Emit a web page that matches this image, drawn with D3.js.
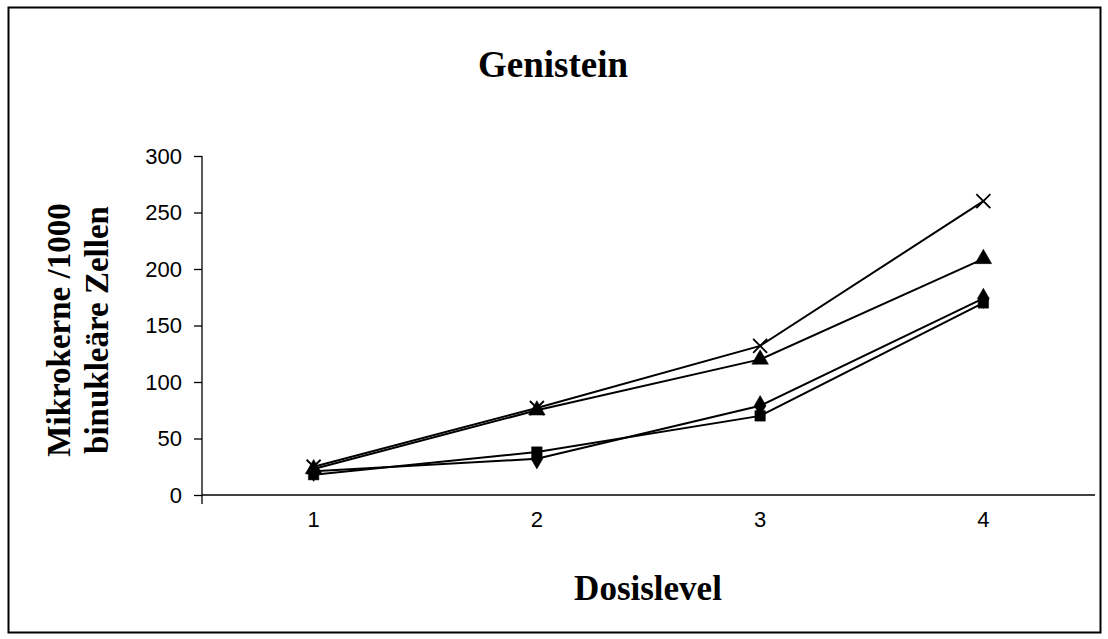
<!DOCTYPE html>
<html>
<head>
<meta charset="utf-8">
<script src="https://cdn.jsdelivr.net/npm/d3@7"></script>
<style>
  html, body { margin: 0; padding: 0; background: #fff; }
  svg { display: block; }
</style>
</head>
<body>
<svg id="chart" width="1108" height="639"></svg>
<script>
// Dose levels and the four measured series (micronuclei per 1000 binucleated cells)
const doseLevels = ["1", "2", "3", "4"];
const seriesDiamond  = [21, 32, 79, 174];
const seriesSquare   = [18, 38, 70, 170];
const seriesTriangle = [23, 75, 120, 209];
const seriesCross    = [25, 77, 132, 260];
const yTicks = [0, 50, 100, 150, 200, 250, 300];

const series = [
  { name: "diamond",  values: seriesDiamond },
  { name: "square",   values: seriesSquare },
  { name: "triangle", values: seriesTriangle },
  { name: "cross",    values: seriesCross }
];

const svg = d3.select("#chart");
const W = 1108, H = 639;

// outer frame
svg.append("rect")
  .attr("x", 8.5).attr("y", 7.5)
  .attr("width", W - 16).attr("height", H - 14)
  .attr("fill", "#fff").attr("stroke", "#000").attr("stroke-width", 2);

const plot = { left: 202, right: 1095, top: 156, bottom: 495 };

const x = d3.scaleBand().domain(doseLevels).range([plot.left, plot.right]);
const y = d3.scaleLinear().domain([0, 300]).range([plot.bottom, plot.top]);
const cx = d => x(d) + x.bandwidth() / 2;

// y axis
const yAxis = svg.append("g")
  .attr("transform", `translate(${plot.left},0)`)
  .call(d3.axisLeft(y).tickValues(yTicks).tickSize(8).tickPadding(12));
yAxis.attr("font-size", null).attr("font-family", null);
yAxis.select(".domain").attr("stroke", "#000").attr("stroke-width", 1.3)
  .attr("d", `M0,${plot.top}V${plot.bottom + 9}`);
yAxis.selectAll(".tick line").attr("stroke", "#000").attr("stroke-width", 1.3);
yAxis.selectAll(".tick text")
  .style("font-family", "'Liberation Sans', Arial, sans-serif")
  .style("font-size", "22px").attr("fill", "#000");

// x axis (category labels, no tick marks)
const xAxis = svg.append("g")
  .attr("transform", `translate(0,${plot.bottom})`)
  .call(d3.axisBottom(x).tickSize(0).tickPadding(16));
xAxis.attr("font-size", null).attr("font-family", null);
xAxis.select(".domain").attr("stroke", "#000").attr("stroke-width", 1.3)
  .attr("d", `M${plot.left},0H${plot.right}`);
xAxis.selectAll(".tick text")
  .style("font-family", "'Liberation Sans', Arial, sans-serif")
  .style("font-size", "22px").attr("fill", "#000");

// lines
const line = d3.line()
  .x((v, i) => cx(doseLevels[i]))
  .y(v => y(v));

svg.append("g").selectAll("path")
  .data(series)
  .join("path")
  .attr("d", s => line(s.values))
  .attr("fill", "none")
  .attr("stroke", "#000")
  .attr("stroke-width", 2);

// markers
const markerPath = {
  diamond:  d3.symbol(d3.symbolDiamond, 120)(),
  square:   d3.symbol(d3.symbolSquare, 110)(),
  triangle: d3.symbol(d3.symbolTriangle, 120)(),
  cross:    "M-7,-7L7,7M-7,7L7,-7"
};

series.forEach(s => {
  const g = svg.append("g");
  g.selectAll("path")
    .data(s.values)
    .join("path")
    .attr("transform", (v, i) => `translate(${cx(doseLevels[i])},${y(v)})`)
    .attr("d", markerPath[s.name])
    .attr("fill", s.name === "cross" ? "none" : "#000")
    .attr("stroke", "#000")
    .attr("stroke-width", s.name === "cross" ? 1.8 : 0.5);
});

const serif = "'Liberation Serif', 'Times New Roman', serif";

// title
svg.append("text")
  .attr("x", 553).attr("y", 77)
  .attr("text-anchor", "middle")
  .style("font-family", serif)
  .style("font-weight", "bold").style("font-size", "37px")
  .text("Genistein");

// y axis title (two lines)
const yt = svg.append("text")
  .attr("transform", "translate(70,330) rotate(-90)")
  .attr("text-anchor", "middle")
  .style("font-family", serif)
  .style("font-weight", "bold").style("font-size", "33px");
yt.append("tspan").attr("x", 0).attr("dy", 0).text("Mikrokerne /1000");
yt.append("tspan").attr("x", 0).attr("dy", 38).text("binukleäre Zellen");

// x axis title
svg.append("text")
  .attr("x", 648).attr("y", 600)
  .attr("text-anchor", "middle")
  .style("font-family", serif)
  .style("font-weight", "bold").style("font-size", "35px")
  .text("Dosislevel");
</script>
</body>
</html>
